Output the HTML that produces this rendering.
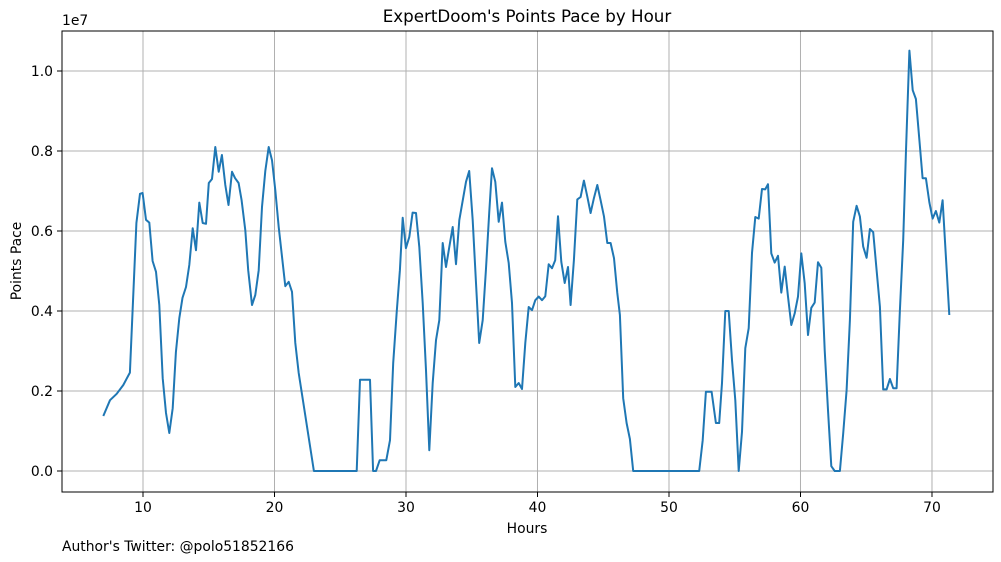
<!DOCTYPE html>
<html><head><meta charset="utf-8"><style>
body{margin:0;background:#fff;}
svg{display:block;font-family:"DejaVu Sans","Liberation Sans",sans-serif;}
</style></head><body>
<svg id="chart" width="1001" height="562" viewBox="0 0 1001 562" xmlns="http://www.w3.org/2000/svg">
<rect width="1001" height="562" fill="#fff"/>
<text x="527" y="22" font-size="16.7" text-anchor="middle" fill="#000">ExpertDoom's Points Pace by Hour</text>
<g id="grid"></g>
<g id="ticks"></g>
<path id="line" fill="none" stroke="#1f77b4" stroke-width="2" stroke-linejoin="round"/>
<rect x="62" y="31" width="931" height="461" fill="none" stroke="#000" stroke-width="1"/>
<text x="62" y="25" font-size="13.9" fill="#000">1e7</text>
<text x="21" y="261" font-size="13.9" text-anchor="middle" transform="rotate(-90 21 261)" fill="#000">Points Pace</text>
<text x="527" y="533" font-size="13.9" text-anchor="middle" fill="#000">Hours</text>
<text x="62" y="551" font-size="13.9" fill="#000">Author's Twitter: @polo51852166</text>
</svg>
<script>
const hours=[6.98,7.49,8.0,8.5,9.0,9.5,9.77,9.97,10.23,10.48,10.73,10.99,11.24,11.5,11.75,12.0,12.26,12.5,12.76,13.0,13.27,13.52,13.78,14.03,14.28,14.54,14.79,15.0,15.25,15.5,15.76,16.0,16.26,16.5,16.77,17.0,17.27,17.5,17.78,18.0,18.29,18.54,18.8,19.05,19.3,19.56,19.81,20.06,20.32,20.57,20.82,21.08,21.33,21.58,21.84,23.0,
26.25,26.5,27.26,27.5,27.72,28.0,28.5,28.78,29.03,29.29,29.54,29.75,29.99,30.25,30.5,30.76,31.01,31.27,31.52,31.77,32.03,32.28,32.53,32.79,33.04,33.29,33.55,33.8,34.05,34.3,34.56,34.81,35.07,35.32,35.57,35.83,36.08,36.33,36.54,36.79,37.05,37.3,37.55,37.81,38.06,38.31,38.57,38.82,39.07,39.33,39.58,39.83,40.09,40.34,40.59,40.85,41.1,41.35,41.56,41.81,42.07,42.32,42.52,42.77,43.03,43.28,43.53,43.79,44.04,44.29,44.55,44.8,45.06,45.31,45.56,45.82,46.07,46.27,46.52,46.78,47.03,47.28,
52.3,52.56,52.81,53.24,53.57,53.82,54.03,54.28,54.54,54.79,55.04,55.3,55.55,55.8,56.06,56.31,56.56,56.82,57.07,57.32,57.53,57.78,58.04,58.29,58.54,58.8,59.05,59.3,59.56,59.81,60.06,60.32,60.57,60.82,61.08,61.33,61.58,61.84,62.09,62.34,62.6,63.0,63.25,63.51,63.76,64.01,64.27,64.52,64.77,65.03,65.28,65.53,65.79,66.04,66.29,66.55,66.8,67.05,67.31,67.56,67.81,68.02,68.28,68.53,68.78,69.04,69.29,69.54,69.8,70.05,70.3,70.56,70.81,71.07,71.32];
const paceMillions=[1.375,1.77,1.93,2.15,2.46,6.2,6.93,6.95,6.28,6.21,5.25,4.98,4.15,2.32,1.45,0.95,1.57,2.97,3.82,4.33,4.6,5.15,6.07,5.52,6.71,6.2,6.18,7.2,7.3,8.1,7.48,7.9,7.15,6.65,7.48,7.32,7.2,6.77,6.02,5.02,4.15,4.4,5.02,6.6,7.5,8.1,7.77,7.02,6.1,5.36,4.62,4.73,4.48,3.2,2.45,0,
0,2.28,2.28,0,0,0.27,0.27,0.77,2.7,3.97,5.02,6.33,5.57,5.85,6.46,6.45,5.6,4.2,2.52,0.52,2.2,3.27,3.77,5.7,5.1,5.6,6.1,5.17,6.27,6.73,7.23,7.5,6.27,4.7,3.2,3.77,5.02,6.45,7.57,7.23,6.23,6.71,5.73,5.2,4.2,2.1,2.2,2.05,3.2,4.1,4.02,4.27,4.36,4.27,4.37,5.17,5.07,5.27,6.37,5.23,4.7,5.1,4.15,5.27,6.79,6.85,7.26,6.86,6.45,6.82,7.15,6.77,6.36,5.7,5.7,5.32,4.45,3.9,1.82,1.2,0.8,0,
0,0.77,1.98,1.98,1.2,1.2,2.2,4.0,4.0,2.77,1.77,0,0.98,3.07,3.57,5.45,6.35,6.31,7.05,7.04,7.17,5.44,5.21,5.38,4.46,5.11,4.36,3.65,3.94,4.36,5.44,4.69,3.4,4.08,4.21,5.22,5.08,3.02,1.52,0.12,0,0,0.94,2.02,3.77,6.23,6.63,6.36,5.61,5.33,6.05,5.97,5.02,4.11,2.04,2.04,2.3,2.07,2.07,4.02,5.77,7.94,10.51,9.52,9.3,8.27,7.32,7.32,6.71,6.31,6.5,6.21,6.77,5.27,3.9];
const xTicks=[10,20,30,40,50,60,70];
const yTicks=[0,2,4,6,8,10];
const yTickLabels=["0.0","0.2","0.4","0.6","0.8","1.0"];

const NS="http://www.w3.org/2000/svg";
const X0=62,X1=993,Y0=31,Y1=492;
const xMin=3.84,xMax=74.64,yMin=-0.525,yMax=11.0;
function sx(h){return X0+(h-xMin)/(xMax-xMin)*(X1-X0);}
function sy(v){return Y1-(v-yMin)/(yMax-yMin)*(Y1-Y0);}
const grid=document.getElementById('grid'),ticks=document.getElementById('ticks');
function mk(tag,attrs,parent){const e=document.createElementNS(NS,tag);for(const k in attrs)e.setAttribute(k,attrs[k]);parent.appendChild(e);return e;}
xTicks.forEach(t=>{
  const x=sx(t);
  const g=mk('line',{x1:x,x2:x,y1:Y0,y2:Y1,stroke:'#b0b0b0','stroke-width':1},grid);
  
  
  const tk=mk('line',{x1:x,x2:x,y1:Y1,y2:Y1+5,stroke:'#000'},ticks);
  
  
  const tx=mk('text',{x:x,y:Y1+20,'font-size':13.9,'text-anchor':'middle',fill:'#000'},ticks);
  tx.textContent=t;
  
  
});
yTicks.forEach((t,i)=>{
  const y=sy(t);
  const g=mk('line',{x1:X0,x2:X1,y1:y,y2:y,stroke:'#b0b0b0','stroke-width':1},grid);
  
  
  const tk=mk('line',{x1:X0-5,x2:X0,y1:y,y2:y,stroke:'#000'},ticks);
  
  
  const tx=mk('text',{x:X0-9,y:y+5,'font-size':13.9,'text-anchor':'end',fill:'#000'},ticks);
  tx.textContent=yTickLabels[i];
  
  
});
document.getElementById('line').setAttribute('d',hours.map((h,i)=>(i?'L':'M')+sx(h).toFixed(1)+','+sy(paceMillions[i]).toFixed(1)).join(''));
</script>
</body></html>
